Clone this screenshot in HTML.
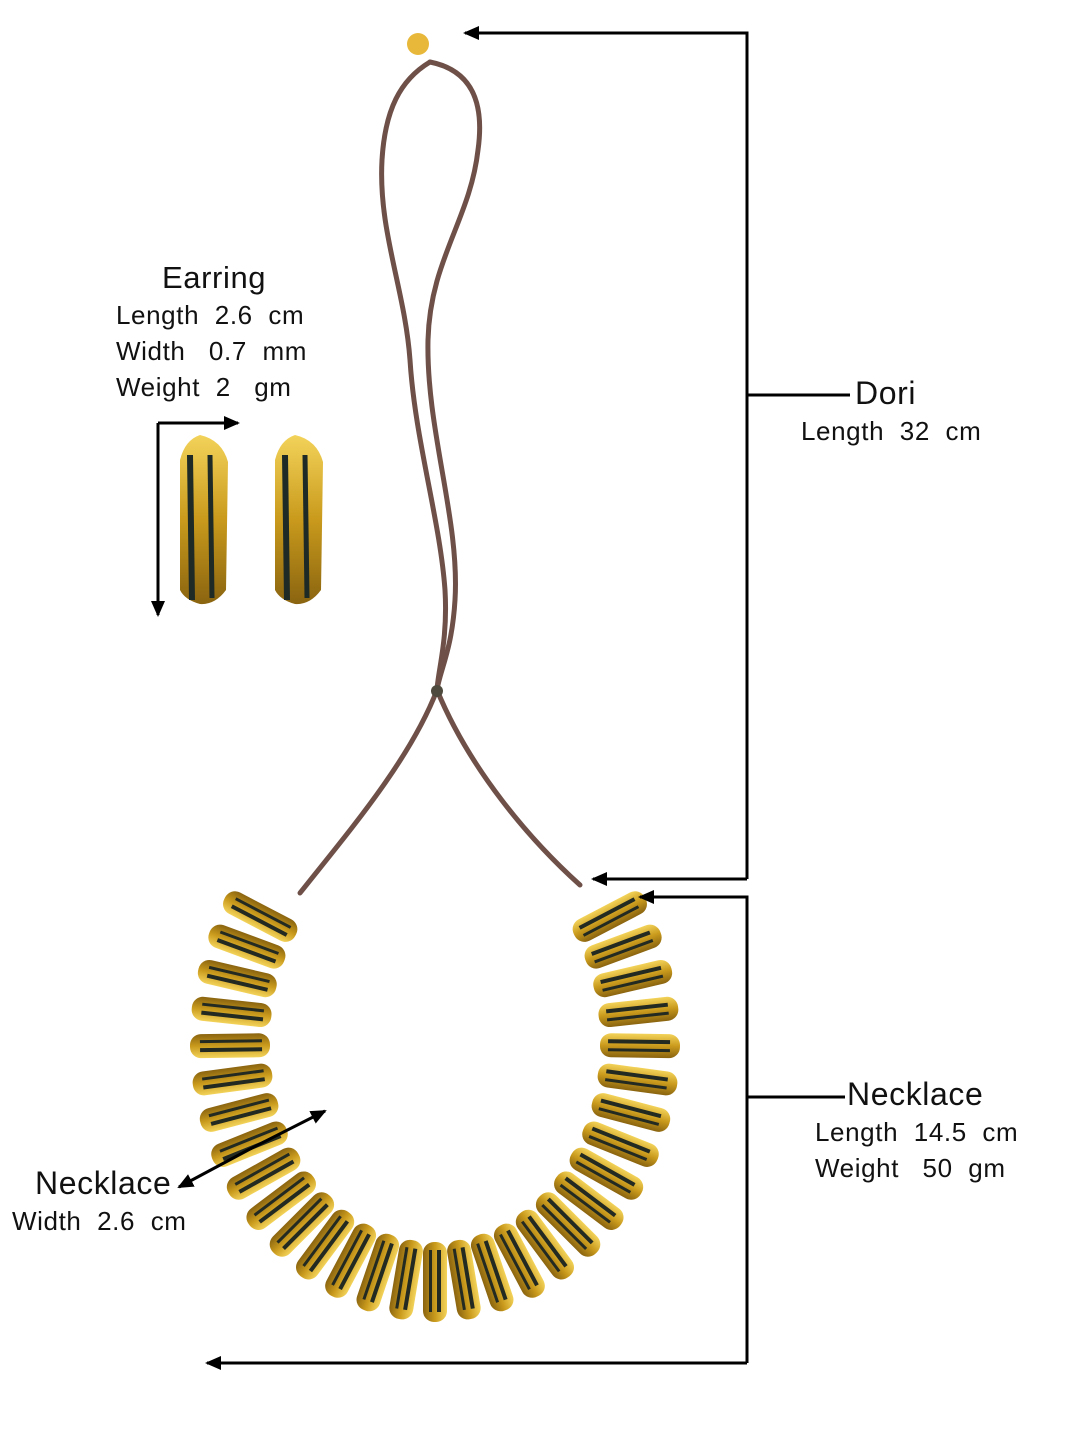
<!DOCTYPE html>
<html><head><meta charset="utf-8"><style>
html,body{margin:0;padding:0;background:#fff;}
body{width:1080px;height:1440px;position:relative;overflow:hidden;font-family:"Liberation Sans","DejaVu Sans",sans-serif;color:#111;}
.t{position:absolute;white-space:pre;line-height:1;letter-spacing:0.6px;}
</style></head><body>
<svg id="s" width="1080" height="1440" style="position:absolute;left:0;top:0">
<defs>
<linearGradient id="g" x1="0" y1="0" x2="0" y2="1">
<stop offset="0" stop-color="#f3d35a"/><stop offset="0.5" stop-color="#c99a1c"/><stop offset="1" stop-color="#8a6410"/>
</linearGradient>
<marker id="a" markerWidth="16" markerHeight="14" refX="14" refY="7" orient="auto" markerUnits="userSpaceOnUse" viewBox="0 0 16 14"><path d="M0,0 L16,7 L0,14 z" fill="#000"/></marker>
</defs>
<g fill="none" stroke="#6e5048" stroke-width="5" stroke-linecap="round">
<path d="M430,62 C400,80 385,110 382,160 C378,230 405,290 410,360 C415,440 440,520 445,590 C448,640 438,670 437,690"/>
<path d="M430,62 C470,70 485,100 478,150 C470,220 430,260 428,340 C426,430 460,520 455,600 C452,650 440,670 437,690"/>
<path d="M437,690 C410,760 350,830 300,893"/>
<path d="M437,690 C470,770 530,840 580,885"/>
</g>
<circle cx="437" cy="691" r="6" fill="#4e4a3e"/>
<ellipse cx="418" cy="44" rx="11" ry="11" fill="#e8b83a"/>
<g id="beads"></g>
<g>
<path d="M180,460 Q185,440 200,435 Q222,440 228,462 L226,590 Q215,605 200,604 Q185,600 180,590 Z" fill="url(#g)"/>
<path d="M190,455 L192,600" stroke="#1e2a26" stroke-width="6"/>
<path d="M210,455 L212,598" stroke="#1e2a26" stroke-width="5"/>
<path d="M275,460 Q280,440 295,435 Q317,440 323,462 L321,590 Q310,605 295,604 Q280,600 275,590 Z" fill="url(#g)"/>
<path d="M285,455 L287,600" stroke="#1e2a26" stroke-width="6"/>
<path d="M305,455 L307,598" stroke="#1e2a26" stroke-width="5"/>
</g>
<g stroke="#000" stroke-width="3" fill="none">
<path d="M747,879 L747,33 L465,33" marker-end="url(#a)"/>
<path d="M747,879 L593,879" marker-end="url(#a)"/>
<path d="M747,395 L850,395"/>
<path d="M747,1363 L747,897 L640,897" marker-end="url(#a)"/>
<path d="M747,1363 L207,1363" marker-end="url(#a)"/>
<path d="M747,1097 L845,1097"/>
<path d="M158,423 L238,423" marker-end="url(#a)"/>
<path d="M158,423 L158,615" marker-end="url(#a)"/>
<path d="M250,1149 L325,1111" marker-end="url(#a)"/>
<path d="M250,1149 L179,1187" marker-end="url(#a)"/>
</g>
</svg>
<div class="t" style="left:162px;top:262px;font-size:31px">Earring</div>
<div class="t" style="left:116px;top:302px;font-size:26px">Length  2.6  cm</div>
<div class="t" style="left:116px;top:338px;font-size:26px">Width   0.7  mm</div>
<div class="t" style="left:116px;top:374px;font-size:26px">Weight  2   gm</div>
<div class="t" style="left:855px;top:377px;font-size:32px">Dori</div>
<div class="t" style="left:801px;top:418px;font-size:26px">Length  32  cm</div>
<div class="t" style="left:847px;top:1078px;font-size:32px">Necklace</div>
<div class="t" style="left:815px;top:1119px;font-size:26px">Length  14.5  cm</div>
<div class="t" style="left:815px;top:1155px;font-size:26px">Weight   50  gm</div>
<div class="t" style="left:35px;top:1167px;font-size:32px">Necklace</div>
<div class="t" style="left:12px;top:1208px;font-size:26px">Width  2.6  cm</div>
<script>
var g=document.getElementById('beads'),h='';
var cx=435,cy=1042,rx=205,ry=240,n=31;
for(var i=0;i<n;i++){
 var a0=-0.55,a1=Math.PI+0.55;
 var t=a0+(a1-a0)*i/(n-1);
 var x=cx+rx*Math.cos(t),y=cy+ry*Math.sin(t);
 var d=Math.atan2(Math.sin(t)/ry,Math.cos(t)/rx)*180/Math.PI;
 h+='<g transform="translate('+x.toFixed(1)+','+y.toFixed(1)+') rotate('+d.toFixed(1)+')">'+
 '<rect x="-40" y="-12" width="80" height="24" rx="11" fill="url(#g)"/>'+
 '<rect x="-32" y="-6" width="62" height="4" fill="#232a22"/>'+
 '<rect x="-32" y="3" width="62" height="3" fill="#232a22"/></g>';
}
g.innerHTML=h;
</script>
</body></html>
